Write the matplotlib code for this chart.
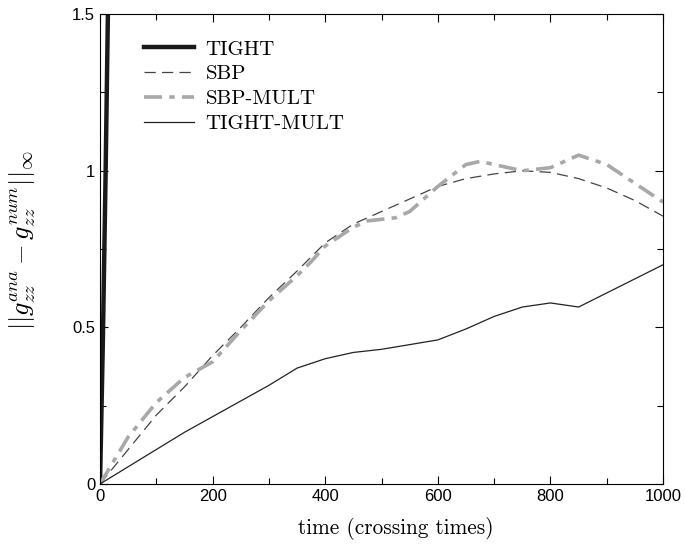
import matplotlib.pyplot as plt
import numpy as np

plt.rcParams['mathtext.fontset'] = 'cm'

# data
tight_t = [0, 5, 10, 14]
tight_err = [0, 0.45, 1.0, 1.5]

sbp_t = [0, 50, 100, 150, 200, 250, 300, 350, 400, 450, 500, 550, 600, 650, 700, 750,
         800, 850, 900, 950, 1000]
sbp_err = [0, 0.11, 0.22, 0.31, 0.41, 0.50, 0.595, 0.68, 0.77, 0.83, 0.87, 0.91, 0.95,
           0.975, 0.99, 1.0, 0.995, 0.975, 0.945, 0.905, 0.855]

mult_t = [0, 50, 100, 150, 200, 250, 300, 350, 375, 400, 450, 475, 500, 525, 550, 600,
          650, 675, 700, 750, 800, 850, 900, 950, 1000]
mult_err = [0, 0.15, 0.26, 0.34, 0.39, 0.49, 0.585, 0.665, 0.71, 0.76, 0.82, 0.84, 0.845,
            0.85, 0.87, 0.95, 1.02, 1.03, 1.02, 1.0, 1.01, 1.05, 1.02, 0.96, 0.90]

tmult_t = [0, 50, 100, 150, 200, 250, 300, 350, 400, 450, 500, 550, 600, 650, 700, 750,
           800, 850, 900, 950, 1000]
tmult_err = [0, 0.055, 0.11, 0.165, 0.215, 0.265, 0.315, 0.37, 0.40, 0.42, 0.43, 0.445,
             0.46, 0.495, 0.535, 0.565, 0.578, 0.565, 0.61, 0.655, 0.70]

fig = plt.figure(figsize=(6.85, 5.46), dpi=100)
ax = fig.add_axes([0.146, 0.1136, 0.822, 0.8604])

ax.plot(tight_t, tight_err, color='#1a1a1a', lw=3.2, label='TIGHT')
ax.plot(sbp_t, sbp_err, color='#444444', lw=0.9, ls=(0, (9, 5)), label='SBP')
ax.plot(mult_t, mult_err, color='#a8a8a8', lw=2.6, ls=(0, (5, 2, 1.5, 2)), label='SBP-MULT')
ax.plot(tmult_t, tmult_err, color='#222222', lw=0.9, label='TIGHT-MULT')

ax.set_xlim(0, 1000)
ax.set_ylim(0, 1.5)
ax.set_xticks([0, 200, 400, 600, 800, 1000])
ax.set_xticks(np.arange(100, 1000, 200), minor=True)
ax.set_yticks([0, 0.5, 1, 1.5])
ax.set_yticklabels(['0', '0.5', '1', '1.5'])
ax.set_yticks([0.25, 0.75, 1.25], minor=True)
ax.tick_params(which='both', direction='in', top=True, right=True, width=0.8)
ax.tick_params(which='major', length=6, labelsize=12)
ax.tick_params(which='minor', length=4)
for lbl in ax.get_xticklabels() + ax.get_yticklabels():
    lbl.set_family('Liberation Sans')

ax.set_xlabel('time (crossing times)', family='cmr10', fontsize=15.3)
ax.xaxis.set_label_coords(0.526, -0.07)
ax.set_ylabel(r'$||g_{zz}^{ana} - g_{zz}^{num}||_\infty$', fontsize=19)
ax.yaxis.set_label_coords(-0.11, 0.52)

ax.legend(loc='upper left', bbox_to_anchor=(0.045, 0.985), frameon=False,
          prop={'family': 'cmr10', 'size': 15}, handlelength=2.4, labelspacing=0.3,
          handletextpad=0.55)

fig.savefig('out.png', dpi=100)
